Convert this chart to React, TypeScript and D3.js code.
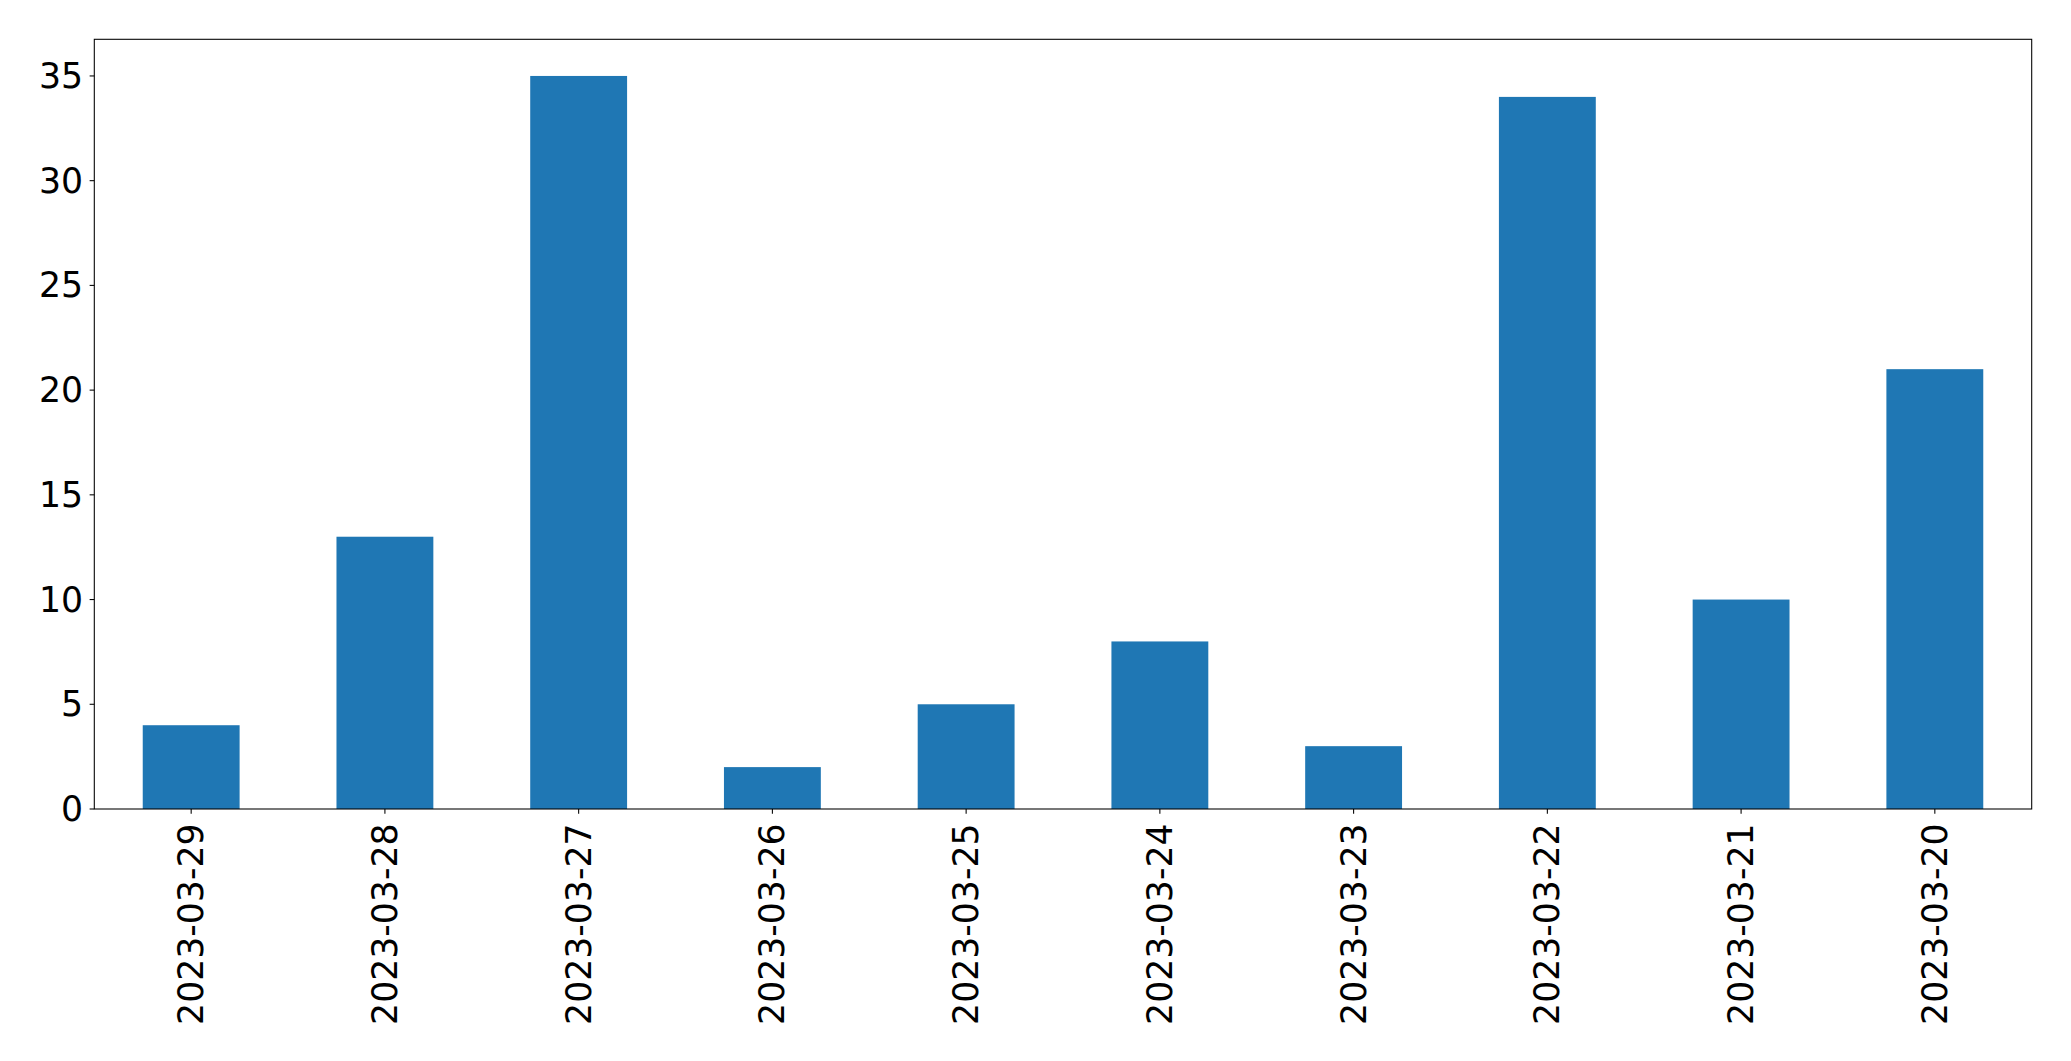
import React, { useEffect, useRef } from "react";
import * as d3 from "d3";

const categories = ["2023-03-29", "2023-03-28", "2023-03-27", "2023-03-26", "2023-03-25", "2023-03-24", "2023-03-23", "2023-03-22", "2023-03-21", "2023-03-20"];
const values = [4, 13, 35, 2, 5, 8, 3, 34, 10, 21];
const yTicks = [0, 5, 10, 15, 20, 25, 30, 35];

const W = 2071, H = 1061;
const M = { left: 94.3, right: 2031.7, top: 39.3, bottom: 809 };
const FONT = "DejaVu Sans, sans-serif";
const FS = 34.67;
const TICK = 4.67;

export default function App() {
  const ref = useRef<SVGSVGElement>(null);
  useEffect(() => {
    const svg = d3.select(ref.current);
    svg.selectAll("*").remove();
    const x = d3.scaleLinear().domain([-0.5, categories.length - 0.5]).range([M.left, M.right]);
    const y = d3.scaleLinear().domain([0, 35 * 1.05]).range([M.bottom, M.top]);
    const bw = x(0.25) - x(-0.25);

    svg.append("rect").attr("width", W).attr("height", H).attr("fill", "#fff");

    svg.append("g").selectAll("rect").data(values).join("rect")
      .attr("x", (_, i) => x(i) - bw / 2)
      .attr("width", bw)
      .attr("y", d => y(d))
      .attr("height", d => y(0) - y(d))
      .attr("fill", "#1f77b4");

    svg.append("rect")
      .attr("x", M.left).attr("y", M.top)
      .attr("width", M.right - M.left).attr("height", M.bottom - M.top)
      .attr("fill", "none").attr("stroke", "#000").attr("stroke-width", 1.07);

    const yg = svg.append("g");
    yTicks.forEach(t => {
      yg.append("line").attr("x1", M.left - TICK).attr("x2", M.left).attr("y1", y(t)).attr("y2", y(t))
        .attr("stroke", "#000").attr("stroke-width", 1.07);
      yg.append("text").attr("x", M.left - TICK - 6.5).attr("y", y(t))
        .attr("text-anchor", "end").attr("dominant-baseline", "central")
        .attr("font-family", FONT).attr("font-size", FS).attr("fill", "#000").text(String(t));
    });

    const xg = svg.append("g");
    categories.forEach((c, i) => {
      const cx = x(i);
      xg.append("line").attr("x1", cx).attr("x2", cx).attr("y1", M.bottom).attr("y2", M.bottom + TICK)
        .attr("stroke", "#000").attr("stroke-width", 1.07);
      const ty = M.bottom + 14.5;
      xg.append("text").attr("transform", `translate(${cx},${ty}) rotate(-90)`)
        .attr("text-anchor", "end").attr("dominant-baseline", "central")
        .attr("font-family", FONT).attr("font-size", FS).attr("fill", "#000").text(c);
    });
  }, []);
  return <svg ref={ref} width={W} height={H} style={{ position: "absolute", left: 0, top: 0 }} />;
}
